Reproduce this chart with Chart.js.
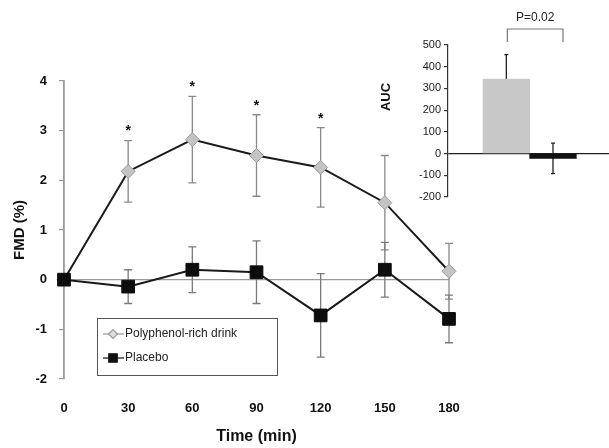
<!DOCTYPE html>
<html>
<head>
<meta charset="utf-8">
<script src="https://cdn.jsdelivr.net/npm/chart.js@4.4.1/dist/chart.umd.min.js"></script>
<style>
  html, body { margin: 0; padding: 0; background: #fff; }
  #wrap { position: relative; width: 609px; height: 448px; }
  #main { position: absolute; left: 0; top: 0; }
  #inset { position: absolute; left: 370px; top: 0; }
</style>
</head>
<body>
<div id="wrap">
  <canvas id="main" width="609" height="448"></canvas>
  <canvas id="inset" width="239" height="215"></canvas>
</div>
<script>
// Valori
const timePoints = [0, 30, 60, 90, 120, 150, 180];
const polyphenol = [0, 2.18, 2.82, 2.5, 2.26, 1.55, 0.17];
const polyphenolErr = [0, 0.62, 0.87, 0.82, 0.8, 0.95, 0.56];
const placebo = [0, -0.14, 0.2, 0.15, -0.72, 0.2, -0.79];
const placeboErr = [0, 0.34, 0.46, 0.63, 0.84, 0.55, 0.48];
const significant = [false, true, true, true, true, false, false];

const aucGroups = ['Polyphenol-rich drink', 'Placebo'];
const aucValues = [343, -22];
const aucErr = [113, 70];
const pValueText = 'P=0.02';

Chart.defaults.font.family = "'Liberation Sans', Arial, sans-serif";
Chart.defaults.color = '#111';

function valueOf(point) {
    return typeof point === 'object' ? point.y : point;
}

// Barre d'errore disegnate sotto i marker
const errorBars = {
    id: 'errorBars',
    beforeDatasetsDraw(chart) {
        const ctx = chart.ctx;
        const yScale = chart.scales.y;
        chart.data.datasets.forEach((ds, i) => {
            if (!ds.errors) return;
            const meta = chart.getDatasetMeta(i);
            ctx.save();
            ctx.strokeStyle = ds.errorColor;
            ctx.lineWidth = ds.errorWidth;
            meta.data.forEach((el, j) => {
                const err = ds.errors[j];
                if (!err) return;
                const v = valueOf(ds.data[j]);
                const x = el.x;
                const yTop = yScale.getPixelForValue(v + err);
                const yBot = yScale.getPixelForValue(v - err);
                const cap = ds.capWidth;
                ctx.beginPath();
                ctx.moveTo(x, yTop); ctx.lineTo(x, yBot);
                ctx.moveTo(x - cap, yTop); ctx.lineTo(x + cap, yTop);
                ctx.moveTo(x - cap, yBot); ctx.lineTo(x + cap, yBot);
                ctx.stroke();
            });
            ctx.restore();
        });
    }
};

// Asterischi e legenda del grafico principale
const mainExtras = {
    id: 'mainExtras',
    afterDatasetsDraw(chart) {
        const ctx = chart.ctx;
        const yScale = chart.scales.y;
        const meta = chart.getDatasetMeta(0);
        ctx.save();
        ctx.fillStyle = '#111';
        ctx.font = "bold 14px 'Liberation Sans', Arial";
        ctx.textAlign = 'center';
        ctx.textBaseline = 'middle';
        meta.data.forEach((el, j) => {
            if (!significant[j]) return;
            const top = yScale.getPixelForValue(polyphenol[j] + polyphenolErr[j]);
            ctx.fillText('*', el.x, top - 9);
        });
        ctx.restore();

        // legenda
        const bx = 97, by = 318, bw = 180, bh = 57;
        ctx.save();
        ctx.fillStyle = '#fff';
        ctx.fillRect(bx, by, bw, bh);
        ctx.strokeStyle = '#555';
        ctx.lineWidth = 1;
        ctx.strokeRect(bx + 0.5, by + 0.5, bw, bh);
        const rows = [
            { label: 'Polyphenol-rich drink', line: '#999', y: by + 16, style: 'rectRot', fill: '#ddd', border: '#999', r: 4.5 },
            { label: 'Placebo', line: '#111', y: by + 40, style: 'rect', fill: '#111', border: '#111', r: 6 }
        ];
        rows.forEach(row => {
            ctx.strokeStyle = row.line;
            ctx.lineWidth = 1.2;
            ctx.beginPath();
            ctx.moveTo(bx + 6, row.y); ctx.lineTo(bx + 27, row.y);
            ctx.stroke();
            ctx.fillStyle = row.fill;
            ctx.strokeStyle = row.border;
            Chart.helpers.drawPoint(ctx, { pointStyle: row.style, radius: row.r, borderWidth: 1 }, bx + 16, row.y);
            ctx.fillStyle = '#222';
            ctx.font = "12px 'Liberation Sans', Arial";
            ctx.textAlign = 'left';
            ctx.textBaseline = 'middle';
            ctx.fillText(row.label, bx + 28, row.y);
        });
        ctx.restore();
    }
};

const mainChart = new Chart(document.getElementById('main'), {
    type: 'line',
    data: {
        datasets: [
            {
                label: 'Polyphenol-rich drink',
                data: timePoints.map((t, i) => ({ x: t, y: polyphenol[i] })),
                order: 2,
                clip: false,
                borderColor: '#1a1a1a',
                borderWidth: 2,
                pointStyle: 'rectRot',
                pointRadius: 7,
                pointBackgroundColor: '#c4c4c4',
                pointBorderColor: '#9a9a9a',
                pointBorderWidth: 1,
                errors: polyphenolErr,
                errorColor: '#8a8a8a',
                errorWidth: 1.3,
                capWidth: 4
            },
            {
                label: 'Placebo',
                data: timePoints.map((t, i) => ({ x: t, y: placebo[i] })),
                order: 1,
                clip: false,
                borderColor: '#1a1a1a',
                borderWidth: 2,
                pointStyle: 'rect',
                pointRadius: 9,
                pointBackgroundColor: '#0d0d0d',
                pointBorderColor: '#0d0d0d',
                pointBorderWidth: 1,
                errors: placeboErr,
                errorColor: '#7a7a7a',
                errorWidth: 1.3,
                capWidth: 4
            }
        ]
    },
    options: {
        responsive: false,
        animation: false,
        layout: { padding: { top: 81, right: 160, left: 0, bottom: 0 } },
        plugins: { legend: { display: false }, tooltip: { enabled: false } },
        scales: {
            x: {
                type: 'linear',
                min: 0,
                max: 180,
                afterBuildTicks: s => { s.ticks = timePoints.map(v => ({ value: v })); },
                grid: { display: false, drawTicks: false },
                border: { display: false },
                ticks: { padding: 22, autoSkip: false, maxRotation: 0, font: { size: 13, weight: 'bold' }, color: '#111' },
                title: { display: true, text: 'Time (min)', font: { size: 16, weight: 'bold' }, color: '#111', padding: { top: 2, bottom: 2 } },
                afterFit: s => { s.height = 69; }
            },
            y: {
                min: -2,
                max: 4,
                ticks: { stepSize: 1, padding: 12, font: { size: 13, weight: 'bold' }, color: '#111' },
                grid: {
                    color: c => (c.tick && c.tick.value === 0 ? '#9a9a9a' : 'rgba(0,0,0,0)'),
                    tickColor: '#9a9a9a',
                    tickLength: 5,
                    lineWidth: 1.2
                },
                border: { color: '#9a9a9a', width: 1.8 },
                title: { display: true, text: 'FMD (%)', font: { size: 15, weight: 'bold' }, color: '#111', padding: { top: 11, bottom: 0 } },
                afterFit: s => { s.width = 64; }
            }
        }
    },
    plugins: [errorBars, mainExtras]
});

// Titolo AUC, parentesi e valore P dell'inserto
const insetExtras = {
    id: 'insetExtras',
    afterDraw(chart) {
        const ctx = chart.ctx;
        const area = chart.chartArea;
        const meta = chart.getDatasetMeta(0);
        ctx.save();
        ctx.fillStyle = '#111';
        ctx.font = "bold 13px 'Liberation Sans', Arial";
        ctx.translate(16, 97);
        ctx.rotate(-Math.PI / 2);
        ctx.textAlign = 'center';
        ctx.textBaseline = 'middle';
        ctx.fillText('AUC', 0, 0);
        ctx.restore();

        const x1 = meta.data[0].x + 1;
        const x2 = meta.data[1].x + 10;
        const yb = area.top - 16;
        ctx.save();
        ctx.strokeStyle = '#777';
        ctx.lineWidth = 1.2;
        ctx.beginPath();
        ctx.moveTo(x1, area.top - 3); ctx.lineTo(x1, yb); ctx.lineTo(x2, yb); ctx.lineTo(x2, area.top - 3);
        ctx.stroke();
        ctx.fillStyle = '#222';
        ctx.font = "12px 'Liberation Sans', Arial";
        ctx.textAlign = 'center';
        ctx.textBaseline = 'middle';
        ctx.fillText(pValueText, (x1 + x2) / 2, yb - 11);
        ctx.restore();
    }
};

const insetChart = new Chart(document.getElementById('inset'), {
    type: 'bar',
    data: {
        datasets: [{
            label: 'AUC',
            data: aucValues.map((v, i) => ({ x: i + 1, y: v })),
            backgroundColor: ['#c8c8c8', '#111'],
            borderWidth: 0,
            barPercentage: 1,
            categoryPercentage: 1,
            errors: aucErr,
            errorColor: '#222',
            errorWidth: 1.3,
            capWidth: 2
        }]
    },
    options: {
        responsive: false,
        animation: false,
        layout: { padding: { top: 45, right: 0, left: 0, bottom: 18 } },
        plugins: { legend: { display: false }, tooltip: { enabled: false } },
        scales: {
            x: {
                type: 'linear',
                display: false,
                min: -0.25,
                max: 3.2,
                offset: false,
                afterBuildTicks: s => { s.ticks = aucGroups.map((g, i) => ({ value: i + 1 })); }
            },
            y: {
                min: -200,
                max: 500,
                ticks: { stepSize: 100, padding: 3, font: { size: 11 }, color: '#1a1a1a' },
                grid: {
                    color: c => (c.tick && c.tick.value === 0 ? '#222' : 'rgba(0,0,0,0)'),
                    tickColor: '#333',
                    tickLength: 4,
                    lineWidth: 1.2
                },
                border: { color: '#333', width: 1.2 },
                afterFit: s => { s.width = 78; }
            }
        }
    },
    plugins: [errorBars, insetExtras]
});
</script>
</body>
</html>
